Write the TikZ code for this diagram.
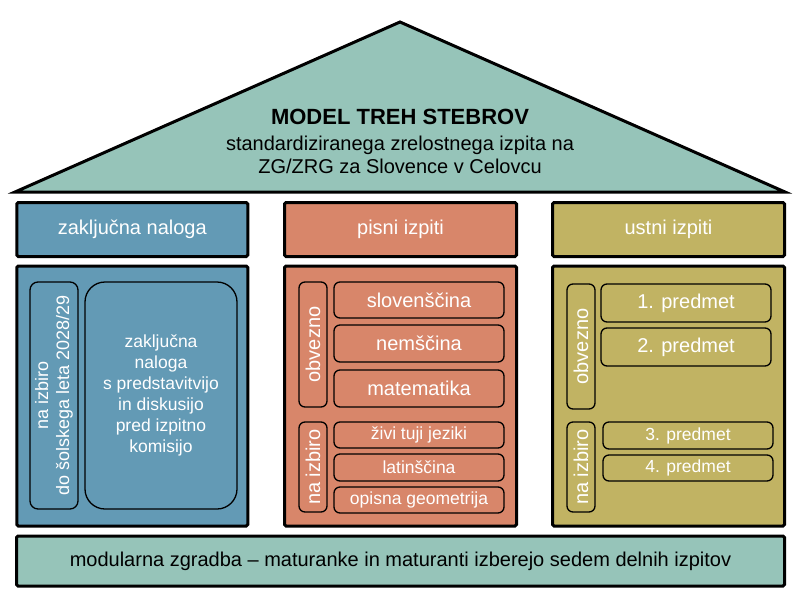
\documentclass[tikz,border=0pt]{standalone}
\usepackage{fontspec}
\setmainfont{Liberation Sans}
\definecolor{roofc}{HTML}{96C4B9}
\definecolor{bluec}{HTML}{639AB5}
\definecolor{salc}{HTML}{D8866A}
\definecolor{olc}{HTML}{C1B363}
\begin{document}
\begin{tikzpicture}[x=1pt,y=-1pt,
  outerbox/.style={draw=black, line width=3pt, rounded corners=1.5pt, inner sep=0pt, text=white, font=\fontsize{20}{24}\selectfont},
  innerbox/.style={draw=black, line width=1.3pt, rounded corners=6pt, inner sep=0pt, text=white, font=\fontsize{20}{24}\selectfont},
  smallbox/.style={innerbox, font=\fontsize{17.5}{21}\selectfont},
  vbox/.style={innerbox, rotate=90},
]
\useasboundingbox (0,0) rectangle (800,600);
% roof
\draw[fill=roofc, line width=3pt, line join=miter] (15,192) -- (400,22) -- (785,192) -- cycle;
\node[align=center, inner sep=0pt, font=\fontsize{20}{23}\selectfont] (title) at (400,141)
  {\textbf{\fontsize{22}{23}\selectfont MODEL TREH STEBROV}\\[3pt]
   standardiziranega zrelostnega izpita na\\
   ZG/ZRG za Slovence v Celovcu};
% headers
\node[outerbox, fill=bluec, minimum width=231pt, minimum height=54pt] (h1) at (132.25,229.5) {zaključna naloga};
\node[outerbox, fill=salc, minimum width=232pt, minimum height=54pt] (h2) at (400.5,229.5) {pisni izpiti};
\node[outerbox, fill=olc, minimum width=232pt, minimum height=54pt] (h3) at (668.5,229.5) {ustni izpiti};
% panels
\node[outerbox, fill=bluec, minimum width=231pt, minimum height=260pt] (p1) at (132.25,396) {};
\node[outerbox, fill=salc, minimum width=232pt, minimum height=260pt] (p2) at (400.5,396) {};
\node[outerbox, fill=olc, minimum width=232pt, minimum height=260pt] (p3) at (668.5,396) {};
% base
\node[outerbox, fill=roofc, text=black, minimum width=768pt, minimum height=50pt, font=\fontsize{20}{24}\selectfont] (base) at (400.5,561)
  {modularna zgradba – maturanke in maturanti izberejo sedem delnih izpitov};
% left pillar
\node[vbox, rounded corners=8pt, minimum width=227pt, minimum height=48pt, align=center, font=\fontsize{18}{21}\selectfont] (l1) at (54,395.5)
  {na izbiro\\do šolskega leta 2028/29};
\node[innerbox, rounded corners=20pt, minimum width=152pt, minimum height=227pt, align=center, font=\fontsize{17.5}{21}\selectfont] (l2) at (161,395.5)
  {zaključna\\naloga\\s predstavitvijo\\in diskusijo\\pred izpitno\\komisijo};
% middle pillar
\node[vbox, minimum width=125pt, minimum height=28pt] (m0) at (313,344.5) {obvezno};
\node[innerbox, minimum width=170pt, minimum height=36pt] (m1) at (419,300) {slovenščina};
\node[innerbox, minimum width=170pt, minimum height=37pt] (m2) at (419,343.5) {nemščina};
\node[innerbox, minimum width=170pt, minimum height=37pt] (m3) at (419,388.5) {matematika};
\node[vbox, minimum width=90pt, minimum height=28pt] (m4) at (313,467) {na izbiro};
\node[smallbox, minimum width=170pt, minimum height=26pt] (m5) at (419,435) {živi tuji jeziki};
\node[smallbox, minimum width=170pt, minimum height=27pt] (m6) at (419,467.5) {latinščina};
\node[smallbox, minimum width=170pt, minimum height=26pt] (m7) at (419,500) {opisna geometrija};
% right pillar
\node[vbox, minimum width=125pt, minimum height=28pt] (r0) at (581,346.5) {obvezno};
\node[innerbox, minimum width=170pt, minimum height=38pt] (r1) at (686,303) {1. predmet};
\node[innerbox, minimum width=170pt, minimum height=38pt] (r2) at (686,347) {2. predmet};
\node[vbox, minimum width=90pt, minimum height=28pt] (r3) at (581,467) {na izbiro};
\node[smallbox, minimum width=170pt, minimum height=27pt] (r4) at (688,435.5) {3. predmet};
\node[smallbox, minimum width=170pt, minimum height=26pt] (r5) at (688,468) {4. predmet};
\end{tikzpicture}
\end{document}
